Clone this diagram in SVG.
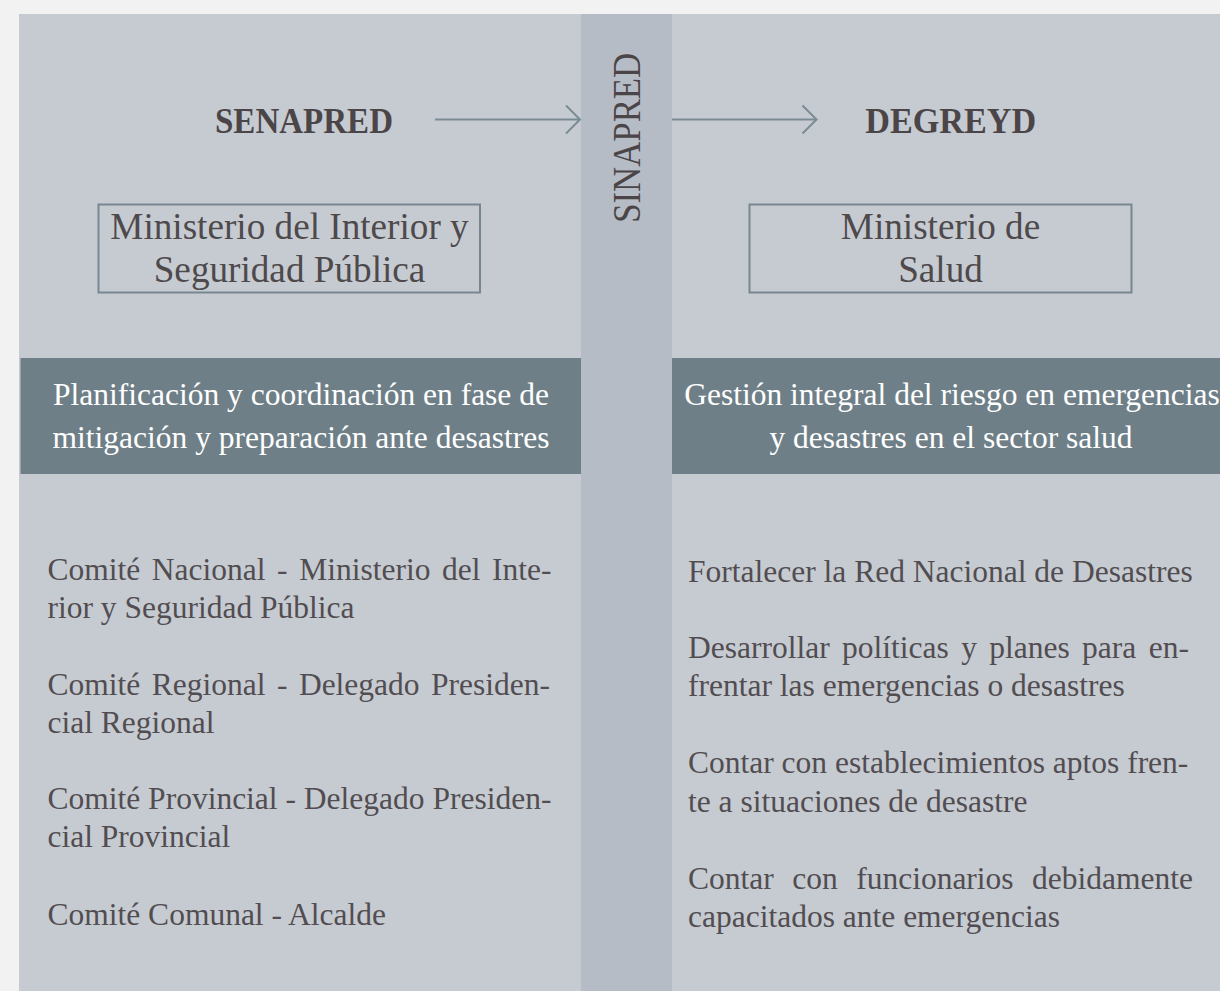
<svg xmlns="http://www.w3.org/2000/svg" width="1220" height="991" viewBox="0 0 1220 991">
  <defs>
    <style>
      .panel { fill: #c6cbd2; }
      .strip { fill: #b5bcc5; }
      .band { fill: #6f7f88; }
      .box { fill: none; stroke: #78878f; stroke-width: 2; }
      .title { font-family: "Liberation Serif", "DejaVu Serif", serif; font-weight: bold; font-size: 36px; fill: #4b4547; text-anchor: middle; }
      .vert { font-family: "Liberation Serif", "DejaVu Serif", serif; font-size: 40px; fill: #4b4547; text-anchor: middle; }
      .boxt { font-family: "Liberation Serif", "DejaVu Serif", serif; font-size: 37.2px; fill: #4e494b; text-anchor: middle; }
      .bandt { font-family: "Liberation Serif", "DejaVu Serif", serif; font-size: 31.5px; fill: #ffffff; text-anchor: middle; }
      .body { font-family: "Liberation Serif", "DejaVu Serif", serif; font-size: 31.5px; fill: #524d50; }
      .conn { fill: none; stroke: #7b8b93; stroke-width: 2; }
    </style>
    <marker id="chev" viewBox="-16 -16 18 32" markerWidth="18" markerHeight="32" refX="0" refY="0" orient="auto" markerUnits="userSpaceOnUse">
      <path d="M-14,-14 L0,0 L-14,14" fill="none" stroke="#7b8b93" stroke-width="2"/>
    </marker>
  </defs>

  <rect x="0" y="0" width="1220" height="991" fill="#f2f2f2"/>
  <rect class="panel" x="19" y="14" width="562" height="977"/>
  <rect class="panel" x="672" y="14" width="560" height="977"/>

  <g id="node-sinapred">
    <rect class="strip" x="581" y="14" width="91" height="977"/>
    <text class="vert" transform="translate(640,137.8) rotate(-90)" x="0" y="0" textLength="170" lengthAdjust="spacingAndGlyphs">SINAPRED</text>
  </g>

  <g id="node-senapred">
    <text class="title" x="304" y="132.5" textLength="178" lengthAdjust="spacingAndGlyphs">SENAPRED</text>
  </g>

  <g id="node-degreyd">
    <text class="title" x="950.7" y="132.5" textLength="171" lengthAdjust="spacingAndGlyphs">DEGREYD</text>
  </g>

  <g id="node-ministerio-interior">
    <rect class="box" x="98.5" y="204.5" width="381.5" height="88"/>
    <text class="boxt" x="289.5" y="239.3">Ministerio del Interior y</text>
    <text class="boxt" x="289.5" y="282.3">Seguridad Pública</text>
  </g>

  <g id="node-ministerio-salud">
    <rect class="box" x="749.5" y="204.5" width="382" height="88"/>
    <text class="boxt" x="940.5" y="239">Ministerio de</text>
    <text class="boxt" x="940.5" y="282">Salud</text>
  </g>

  <g id="node-band-left">
    <rect class="band" x="20.5" y="358" width="560.5" height="116"/>
    <text class="bandt" x="301" y="404.5">Planificación y coordinación en fase de</text>
    <text class="bandt" x="301" y="447.5">mitigación y preparación ante desastres</text>
  </g>

  <g id="node-band-right">
    <rect class="band" x="672" y="358" width="560" height="116"/>
    <text class="bandt" x="952" y="404.5">Gestión integral del riesgo en emergencias</text>
    <text class="bandt" x="951" y="447.5">y desastres en el sector salud</text>
  </g>

  <g id="node-list-left">
    <text class="body" x="47.5" y="580" word-spacing="3.7">Comité Nacional - Ministerio del Inte-</text>
    <text class="body" x="47.5" y="618">rior y Seguridad Pública</text>
    <text class="body" x="47.5" y="695" word-spacing="3.6">Comité Regional - Delegado Presiden-</text>
    <text class="body" x="47.5" y="733">cial Regional</text>
    <text class="body" x="47.5" y="809" word-spacing="0">Comité Provincial - Delegado Presiden-</text>
    <text class="body" x="47.5" y="847">cial Provincial</text>
    <text class="body" x="47.5" y="925">Comité Comunal - Alcalde</text>
  </g>

  <g id="node-list-right">
    <text class="body" x="688" y="582">Fortalecer la Red Nacional de Desastres</text>
    <text class="body" x="688" y="658" word-spacing="4.5">Desarrollar políticas y planes para en-</text>
    <text class="body" x="688" y="696">frentar las emergencias o desastres</text>
    <text class="body" x="688" y="773">Contar con establecimientos aptos fren-</text>
    <text class="body" x="688" y="812">te a situaciones de desastre</text>
    <text class="body" x="688" y="889" word-spacing="10.6">Contar con funcionarios debidamente</text>
    <text class="body" x="688" y="927">capacitados ante emergencias</text>
  </g>

  <g id="connectors">
    <line class="conn" x1="435" y1="119.5" x2="580" y2="119.5" marker-end="url(#chev)"/>
    <line class="conn" x1="672" y1="119.5" x2="816.5" y2="119.5" marker-end="url(#chev)"/>
  </g>
</svg>
